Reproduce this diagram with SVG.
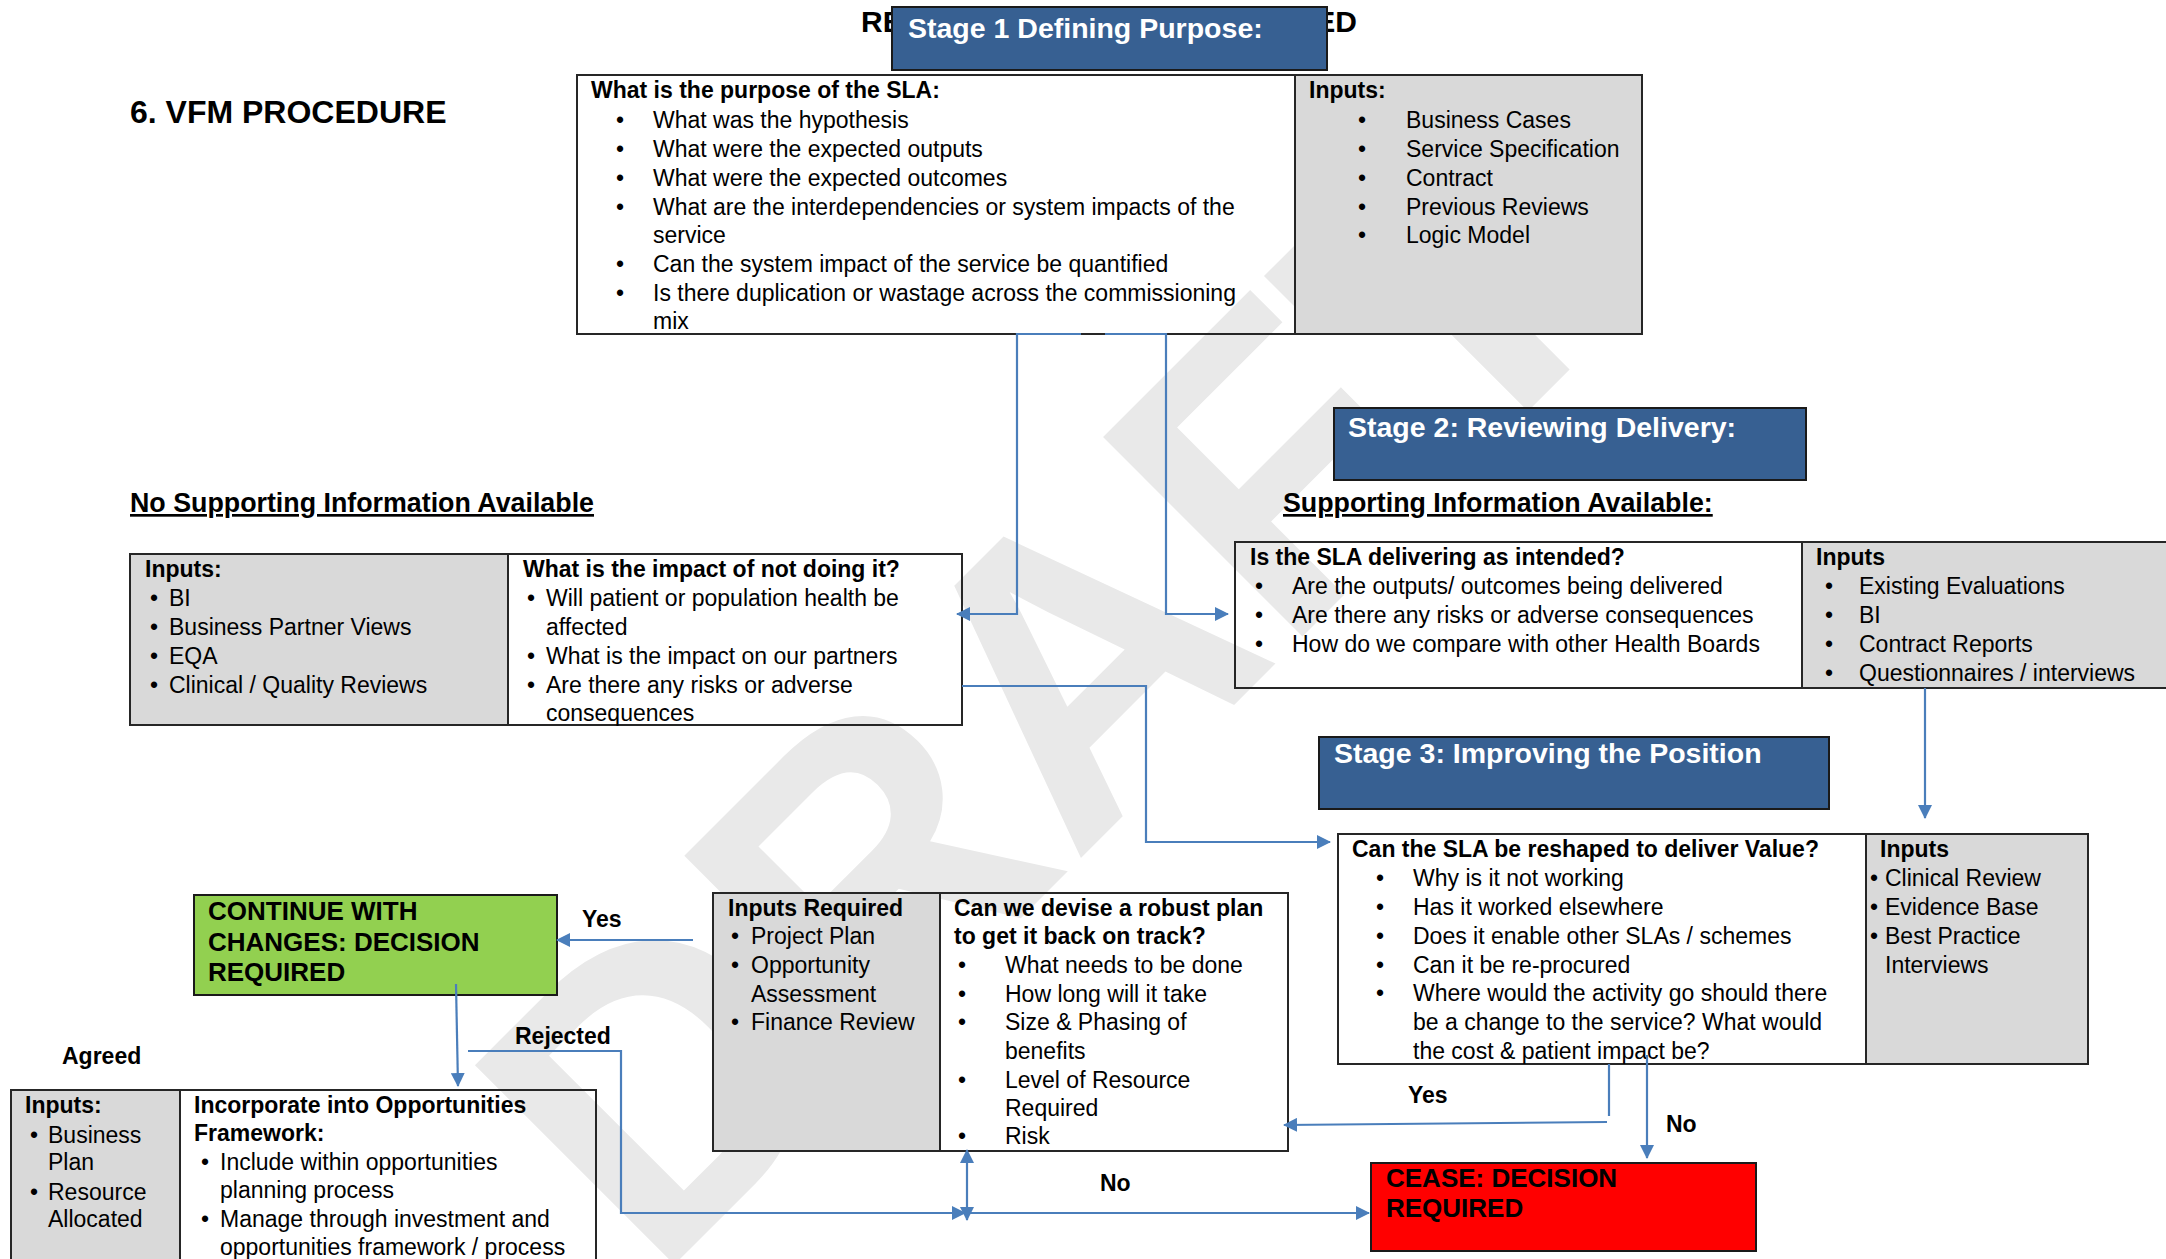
<svg xmlns="http://www.w3.org/2000/svg" width="2166" height="1259" viewBox="0 0 2166 1259">
<defs>
<style>
.t{font-family:"Liberation Sans",Arial,sans-serif;font-size:23px;fill:#000}
.b{font-weight:bold}
.bu{text-anchor:middle}
.h{font-size:26.8px;font-weight:bold;text-decoration:underline}
.st{font-family:"Liberation Sans",Arial,sans-serif;font-size:28.5px;font-weight:bold;fill:#fff}
.dec{font-family:"Liberation Sans",Arial,sans-serif;font-size:26px;font-weight:bold;fill:#000}
.cell{stroke:#262626;stroke-width:2}
.gray{fill:#d9d9d9}
.white{fill:none}
.stage{fill:#376092;stroke:#1a1a1a;stroke-width:2}
.conn{fill:none;stroke:#4a7ebb;stroke-width:2.2}
.wm{font-family:"Liberation Sans",Arial,sans-serif;font-weight:bold;font-size:410px;fill:#e9e9e9}
</style>
<marker id="ah" viewBox="0 0 14 14" refX="13" refY="7" markerWidth="14" markerHeight="14" markerUnits="userSpaceOnUse" orient="auto-start-reverse">
<path d="M0,0 L14,7 L0,14 z" fill="#4a7ebb"/>
</marker>
</defs>
<rect width="2166" height="1259" fill="#fff"/>
<g id="watermark">
<text class="wm" transform="translate(655,1284) rotate(-45)">DRAFT</text>
</g>

<g id="title">
<text class="t b" x="130" y="123" style="font-size:32px">6. VFM PROCEDURE</text>
<text class="t b" x="861" y="32" style="font-size:30px">RE</text>
<text class="t b" x="1357" y="32" style="font-size:30px;text-anchor:end">ED</text>
</g>

<g id="stage1-header">
<rect class="stage" x="892" y="7" width="435" height="63"/>
<text class="st" x="908" y="38">Stage 1 Defining Purpose:</text>
</g>

<g id="stage1-box">
<rect class="cell white" x="577" y="75" width="718" height="259"/>
<rect class="cell gray" x="1295" y="75" width="347" height="259"/>
<text class="t b" x="591" y="98">What is the purpose of the SLA:</text>
<text class="t bu" x="620" y="128">•</text><text class="t" x="653" y="128">What was the hypothesis</text>
<text class="t bu" x="620" y="157">•</text><text class="t" x="653" y="157">What were the expected outputs</text>
<text class="t bu" x="620" y="186">•</text><text class="t" x="653" y="186">What were the expected outcomes</text>
<text class="t bu" x="620" y="215">•</text><text class="t" x="653" y="215">What are the interdependencies or system impacts of the</text>
<text class="t" x="653" y="243">service</text>
<text class="t bu" x="620" y="272">•</text><text class="t" x="653" y="272">Can the system impact of the service be quantified</text>
<text class="t bu" x="620" y="301">•</text><text class="t" x="653" y="301">Is there duplication or wastage across the commissioning</text>
<text class="t" x="653" y="329">mix</text>
<text class="t b" x="1309" y="98">Inputs:</text>
<text class="t bu" x="1362" y="128">•</text><text class="t" x="1406" y="128">Business Cases</text>
<text class="t bu" x="1362" y="157">•</text><text class="t" x="1406" y="157">Service Specification</text>
<text class="t bu" x="1362" y="186">•</text><text class="t" x="1406" y="186">Contract</text>
<text class="t bu" x="1362" y="215">•</text><text class="t" x="1406" y="215">Previous Reviews</text>
<text class="t bu" x="1362" y="243">•</text><text class="t" x="1406" y="243">Logic Model</text>
</g>

<g id="no-support-heading">
<text class="t h" x="130" y="512">No Supporting Information Available</text>
</g>

<g id="no-support-box">
<rect class="cell gray" x="130" y="554" width="378" height="171"/>
<rect class="cell white" x="508" y="554" width="454" height="171"/>
<text class="t b" x="145" y="577">Inputs:</text>
<text class="t bu" x="154" y="606">•</text><text class="t" x="169" y="606">BI</text>
<text class="t bu" x="154" y="635">•</text><text class="t" x="169" y="635">Business Partner Views</text>
<text class="t bu" x="154" y="664">•</text><text class="t" x="169" y="664">EQA</text>
<text class="t bu" x="154" y="693">•</text><text class="t" x="169" y="693">Clinical / Quality Reviews</text>
<text class="t b" x="523" y="577">What is the impact of not doing it?</text>
<text class="t bu" x="531" y="606">•</text><text class="t" x="546" y="606">Will patient or population health be</text>
<text class="t" x="546" y="635">affected</text>
<text class="t bu" x="531" y="664">•</text><text class="t" x="546" y="664">What is the impact on our partners</text>
<text class="t bu" x="531" y="693">•</text><text class="t" x="546" y="693">Are there any risks or adverse</text>
<text class="t" x="546" y="721">consequences</text>
</g>

<g id="stage2-header">
<rect class="stage" x="1334" y="408" width="472" height="72"/>
<text class="st" x="1348" y="437">Stage 2: Reviewing Delivery:</text>
</g>

<g id="support-heading">
<text class="t h" x="1283" y="512">Supporting Information Available:</text>
</g>

<g id="stage2-box">
<rect class="cell white" x="1235" y="542" width="567" height="146"/>
<rect class="cell gray" x="1802" y="542" width="380" height="146"/>
<text class="t b" x="1250" y="565">Is the SLA delivering as intended?</text>
<text class="t bu" x="1259" y="594">•</text><text class="t" x="1292" y="594">Are the outputs/ outcomes being delivered</text>
<text class="t bu" x="1259" y="623">•</text><text class="t" x="1292" y="623">Are there any risks or adverse consequences</text>
<text class="t bu" x="1259" y="652">•</text><text class="t" x="1292" y="652">How do we compare with other Health Boards</text>
<text class="t b" x="1816" y="565">Inputs</text>
<text class="t bu" x="1829" y="594">•</text><text class="t" x="1859" y="594">Existing Evaluations</text>
<text class="t bu" x="1829" y="623">•</text><text class="t" x="1859" y="623">BI</text>
<text class="t bu" x="1829" y="652">•</text><text class="t" x="1859" y="652">Contract Reports</text>
<text class="t bu" x="1829" y="681">•</text><text class="t" x="1859" y="681">Questionnaires / interviews</text>
</g>

<g id="stage3-header">
<rect class="stage" x="1319" y="737" width="510" height="72"/>
<text class="st" x="1334" y="763">Stage 3: Improving the Position</text>
</g>

<g id="stage3-box">
<rect class="cell white" x="1338" y="834" width="528" height="230"/>
<rect class="cell gray" x="1866" y="834" width="222" height="230"/>
<text class="t b" x="1352" y="857">Can the SLA be reshaped to deliver Value?</text>
<text class="t bu" x="1380" y="886">•</text><text class="t" x="1413" y="886">Why is it not working</text>
<text class="t bu" x="1380" y="915">•</text><text class="t" x="1413" y="915">Has it worked elsewhere</text>
<text class="t bu" x="1380" y="944">•</text><text class="t" x="1413" y="944">Does it enable other SLAs / schemes</text>
<text class="t bu" x="1380" y="973">•</text><text class="t" x="1413" y="973">Can it be re-procured</text>
<text class="t bu" x="1380" y="1001">•</text><text class="t" x="1413" y="1001">Where would the activity go should there</text>
<text class="t" x="1413" y="1030">be a change to the service? What would</text>
<text class="t" x="1413" y="1059">the cost &amp; patient impact be?</text>
<text class="t b" x="1880" y="857">Inputs</text>
<text class="t bu" x="1874" y="886">•</text><text class="t" x="1885" y="886">Clinical Review</text>
<text class="t bu" x="1874" y="915">•</text><text class="t" x="1885" y="915">Evidence Base</text>
<text class="t bu" x="1874" y="944">•</text><text class="t" x="1885" y="944">Best Practice</text>
<text class="t" x="1885" y="973">Interviews</text>
</g>

<g id="plan-box">
<rect class="cell gray" x="713" y="893" width="227" height="258"/>
<rect class="cell white" x="940" y="893" width="348" height="258"/>
<text class="t b" x="728" y="916">Inputs Required</text>
<text class="t bu" x="735" y="944">•</text><text class="t" x="751" y="944">Project Plan</text>
<text class="t bu" x="735" y="973">•</text><text class="t" x="751" y="973">Opportunity</text>
<text class="t" x="751" y="1002">Assessment</text>
<text class="t bu" x="735" y="1030">•</text><text class="t" x="751" y="1030">Finance Review</text>
<text class="t b" x="954" y="916">Can we devise a robust plan</text>
<text class="t b" x="954" y="944">to get it back on track?</text>
<text class="t bu" x="962" y="973">•</text><text class="t" x="1005" y="973">What needs to be done</text>
<text class="t bu" x="962" y="1002">•</text><text class="t" x="1005" y="1002">How long will it take</text>
<text class="t bu" x="962" y="1030">•</text><text class="t" x="1005" y="1030">Size &amp; Phasing of</text>
<text class="t" x="1005" y="1059">benefits</text>
<text class="t bu" x="962" y="1088">•</text><text class="t" x="1005" y="1088">Level of Resource</text>
<text class="t" x="1005" y="1116">Required</text>
<text class="t bu" x="962" y="1144">•</text><text class="t" x="1005" y="1144">Risk</text>
</g>

<g id="continue-box">
<rect x="194" y="895" width="363" height="100" fill="#92d050" stroke="#1a1a1a" stroke-width="2"/>
<text class="dec" x="208" y="920">CONTINUE WITH</text>
<text class="dec" x="208" y="951">CHANGES: DECISION</text>
<text class="dec" x="208" y="981">REQUIRED</text>
</g>

<g id="cease-box">
<rect x="1371" y="1163" width="385" height="88" fill="#ff0000" stroke="#1a1a1a" stroke-width="2"/>
<text class="dec" x="1386" y="1187">CEASE: DECISION</text>
<text class="dec" x="1386" y="1217">REQUIRED</text>
</g>

<g id="opportunities-box">
<rect class="cell gray" x="11" y="1090" width="169" height="180"/>
<rect class="cell white" x="180" y="1090" width="416" height="180"/>
<text class="t b" x="25" y="1113">Inputs:</text>
<text class="t bu" x="34" y="1143">•</text><text class="t" x="48" y="1143">Business</text>
<text class="t" x="48" y="1170">Plan</text>
<text class="t bu" x="34" y="1200">•</text><text class="t" x="48" y="1200">Resource</text>
<text class="t" x="48" y="1227">Allocated</text>
<text class="t b" x="194" y="1113">Incorporate into Opportunities</text>
<text class="t b" x="194" y="1141">Framework:</text>
<text class="t bu" x="205" y="1170">•</text><text class="t" x="220" y="1170">Include within opportunities</text>
<text class="t" x="220" y="1198">planning process</text>
<text class="t bu" x="205" y="1227">•</text><text class="t" x="220" y="1227">Manage through investment and</text>
<text class="t" x="220" y="1255">opportunities framework / process</text>
</g>

<g id="connectors">
<path class="conn" d="M1081,334 H1017 V614 H957" marker-end="url(#ah)"/>
<path class="conn" d="M1105,334 H1166 V614 H1228" marker-end="url(#ah)"/>
<path class="conn" d="M962,686 H1146 V842 H1330" marker-end="url(#ah)"/>
<path class="conn" d="M1925,688 V818" marker-end="url(#ah)"/>
<path class="conn" d="M1609,1064 V1116"/>
<path class="conn" d="M1607,1122 L1284,1125" marker-end="url(#ah)"/>
<path class="conn" d="M1647,1055 V1158" marker-end="url(#ah)"/>
<path class="conn" d="M693,940 H557" marker-end="url(#ah)"/>
<path class="conn" d="M456,984 L458,1086" marker-end="url(#ah)"/>
<path class="conn" d="M468,1051 H621 V1213 H965" marker-end="url(#ah)"/>
<path class="conn" d="M967,1150 V1220" marker-start="url(#ah)" marker-end="url(#ah)"/>
<path class="conn" d="M967,1213 H1369" marker-end="url(#ah)"/>
</g>

<g id="labels">
<text class="t b" x="582" y="927">Yes</text>
<text class="t b" x="62" y="1064">Agreed</text>
<text class="t b" x="515" y="1044">Rejected</text>
<text class="t b" x="1408" y="1103">Yes</text>
<text class="t b" x="1666" y="1132">No</text>
<text class="t b" x="1100" y="1191">No</text>
</g>
</svg>
